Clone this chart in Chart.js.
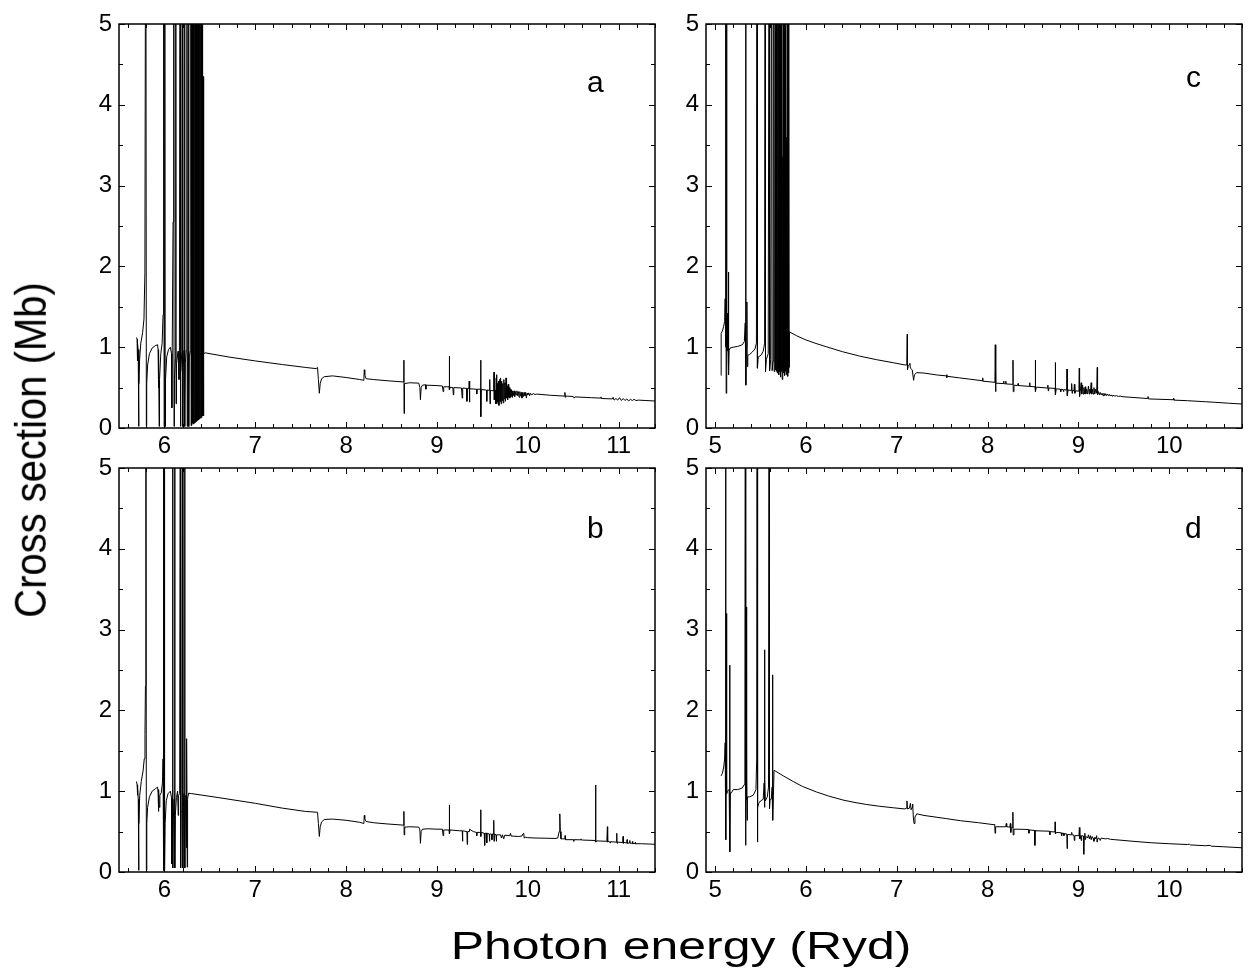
<!DOCTYPE html>
<html lang="en">
  <head>
    <meta charset="UTF-8" />
    <title>Photoionization cross sections</title>
    <script src="https://cdn.jsdelivr.net/npm/chart.js"></script>
    <style>
      body {
        margin: 0;
        background: #fff;
        font-family: "Liberation Sans", Arial, sans-serif;
      }
      #wrap {
        position: relative;
        width: 1249px;
        height: 975px;
        background: #fff;
      }
      #wrap canvas {
        position: absolute;
        left: 0;
        top: 0;
      }
      .lbl {
        position: absolute;
        font-size: 30px;
        line-height: 1;
        color: #000;
      }
      .ttl {
        position: absolute;
        font-size: 40px;
        line-height: 1;
        color: #000;
        white-space: nowrap;
        transform-origin: 0 0;
      }
    </style>
  </head>
  <body>
    <div id="wrap">
      <canvas id="chartA" width="1249" height="975"></canvas>
      <canvas id="chartB" width="1249" height="975"></canvas>
      <canvas id="chartC" width="1249" height="975"></canvas>
      <canvas id="chartD" width="1249" height="975"></canvas>
      <div class="lbl" style="left: 587px; top: 67px">a</div>
      <div class="lbl" style="left: 587px; top: 513px">b</div>
      <div class="lbl" style="left: 1186px; top: 62px">c</div>
      <div class="lbl" style="left: 1185px; top: 513px">d</div>
      <div class="ttl" style="left: 30px; top: 450px; transform: scaleX(1.1) rotate(-90deg) translate(-50%, -50%)">Cross section (Mb)</div>
      <div class="ttl" style="left: 681px; top: 945px; font-size: 39px; transform: scaleX(1.28) translate(-50%, -50%)">Photon energy (Ryd)</div>
    </div>

    <script>
      // tick labels
      const ticksAB = [6, 7, 8, 9, 10, 11];
      const ticksCD = [5, 6, 7, 8, 9, 10];
      const ticksY = [0, 1, 2, 3, 4, 5];

      // [energy (Ryd), cross section (Mb)]; 8 = off the top
      const panelA = [
        [5.692,1.12],[5.699,1.10],[5.702,0.83],[5.705,1.05],[5.711,0.97],[5.716,0.02],[5.720,0.55],[5.727,0.85],
        [5.740,1.05],[5.760,1.18],[5.775,1.35],[5.785,1.92],[5.795,8],[5.801,0.02],[5.805,0.55],[5.815,0.78],
        [5.835,0.92],[5.865,0.99],[5.900,1.02],[5.925,1.03],[5.930,0.97],[5.934,0.50],[5.937,0.96],[5.942,0.02],
        [5.946,0.60],[5.960,0.92],[5.975,1.05],[5.985,1.40],[5.989,2.40],[5.994,8],[5.997,0.02],[6.004,8],
        [6.007,0.02],[6.012,0.60],[6.025,0.88],[6.045,0.97],[6.065,1.00],[6.078,0.92],[6.082,0.25],[6.086,1.00],
        [6.095,2.55],[6.103,8],[6.106,0.02],[6.110,0.60],[6.120,0.85],[6.125,8],[6.128,0.30],[6.133,0.80],
        [6.150,0.95],[6.160,0.60],[6.165,0.93],[6.173,8],[6.177,0.02],[6.181,0.70],[6.192,0.95],[6.199,8],
        [6.202,0.02],[6.207,0.75],[6.216,0.96],[6.222,8],[6.225,0.02],[6.230,0.80],[6.240,0.96],[6.248,8],
        [6.251,0.02],[6.256,0.85],[6.262,0.95],[6.266,8],[6.269,0.02],[6.274,0.88],[6.285,0.95],[6.291,8],
        [6.294,0.03],[6.297,0.90],
        [6.300,8],[6.303,0.04],[6.306,8],[6.309,0.06],[6.312,8],[6.315,0.05],[6.318,8],[6.321,0.07],
        [6.324,8],[6.327,0.06],[6.330,8],[6.333,0.08],[6.336,8],[6.339,0.07],[6.342,8],[6.345,0.09],
        [6.348,8],[6.351,0.08],[6.354,8],[6.357,0.10],[6.360,8],[6.363,0.09],[6.366,8],[6.369,0.11],
        [6.372,8],[6.375,0.10],[6.378,8],[6.381,0.12],[6.384,8],[6.387,0.11],[6.390,8],[6.393,0.13],
        [6.396,8],[6.399,0.12],[6.402,8],[6.405,0.14],[6.408,8],[6.411,0.13],[6.414,8],[6.417,0.15],
        [6.420,8],[6.423,0.20],[6.426,4.35],[6.429,0.15],[6.432,0.40],[6.434,0.92],
        [6.45,0.93],[6.70,0.88],[7.00,0.83],[7.30,0.785],[7.55,0.75],[7.67,0.735],[7.685,0.75],[7.695,0.60],
        [7.705,0.43],[7.715,0.55],[7.73,0.61],[7.76,0.635],[7.85,0.645],[8.00,0.625],[8.15,0.60],[8.195,0.59],
        [8.200,0.72],[8.205,0.66],[8.22,0.61],[8.30,0.60],[8.45,0.585],[8.63,0.57],[8.636,0.84],[8.638,0.18],
        [8.642,0.55],[8.70,0.56],[8.80,0.555],[8.812,0.50],[8.818,0.35],[8.826,0.50],[8.84,0.53],[8.875,0.535],
        [8.878,0.48],[8.882,0.53],[9.00,0.525],[9.06,0.52],[9.068,0.45],[9.074,0.51],[9.133,0.51],[9.136,0.89],
        [9.139,0.47],[9.145,0.505],[9.175,0.50],[9.180,0.41],[9.185,0.50],[9.27,0.495],[9.278,0.37],[9.283,0.495],
        [9.325,0.49],[9.330,0.33],[9.335,0.49],[9.352,0.49],[9.355,0.58],[9.358,0.32],[9.362,0.485],[9.435,0.48],
        [9.438,0.42],[9.442,0.48],[9.478,0.48],[9.481,0.84],[9.484,0.14],[9.488,0.475],[9.545,0.47],[9.548,0.33],
        [9.552,0.47],[9.578,0.465],[9.581,0.60],[9.584,0.30],[9.588,0.465],[9.625,0.46],[9.628,0.69],[9.631,0.35],
        [9.640,0.47],[9.646,0.30],[9.652,0.62],[9.656,0.66],[9.659,0.30],[9.664,0.55],[9.670,0.32],[9.676,0.58],
        [9.682,0.28],[9.688,0.60],[9.694,0.33],[9.700,0.62],[9.706,0.30],[9.712,0.58],[9.718,0.34],[9.724,0.55],
        [9.730,0.31],[9.736,0.60],[9.742,0.36],[9.748,0.56],[9.754,0.33],[9.760,0.62],[9.766,0.37],[9.772,0.52],
        [9.778,0.35],[9.784,0.54],[9.790,0.38],[9.796,0.50],[9.802,0.37],[9.808,0.48],[9.814,0.39],[9.820,0.47],
        [9.826,0.38],[9.832,0.46],[9.840,0.40],[9.848,0.46],[9.856,0.39],[9.864,0.45],[9.872,0.41],[9.880,0.46],
        [9.888,0.40],[9.896,0.45],[9.904,0.38],[9.912,0.45],[9.920,0.40],[9.928,0.44],[9.936,0.37],[9.944,0.44],
        [9.952,0.39],[9.960,0.44],[9.968,0.40],[9.976,0.44],[9.984,0.37],[9.992,0.43],[10.00,0.41],[10.01,0.435],
        [10.02,0.40],[10.03,0.43],[10.04,0.41],[10.06,0.425],[10.08,0.415],[10.10,0.42],[10.25,0.405],[10.40,0.395],
        [10.408,0.44],[10.412,0.38],[10.416,0.395],[10.50,0.39],[10.51,0.37],[10.52,0.385],[10.70,0.375],[10.80,0.37],
        [10.805,0.385],[10.81,0.365],[10.93,0.36],[10.94,0.38],[10.95,0.345],[10.97,0.365],[10.99,0.345],[11.01,0.375],
        [11.03,0.34],[11.05,0.365],[11.07,0.34],[11.09,0.36],[11.11,0.335],[11.13,0.355],[11.15,0.34],[11.17,0.355],
        [11.19,0.34],[11.22,0.345],[11.30,0.34],[11.40,0.334]
      ];

      const panelB = [
        [5.692,1.12],[5.699,1.08],[5.703,0.95],[5.707,1.05],[5.712,0.90],[5.716,0.02],[5.720,0.60],[5.728,0.95],
        [5.745,1.12],[5.765,1.25],[5.778,1.40],[5.786,1.70],[5.791,2.30],[5.796,8],[5.801,0.02],[5.806,0.60],
        [5.815,0.80],[5.835,0.93],[5.865,1.00],[5.900,1.03],[5.925,1.05],[5.930,0.98],[5.934,0.75],[5.938,1.02],
        [5.944,0.80],[5.950,0.95],[5.965,0.98],[5.978,1.10],[5.985,1.40],[5.989,8],[5.993,0.02],[5.997,0.50],
        [6.000,8],[6.003,0.02],[6.008,0.60],[6.020,0.88],[6.040,0.97],[6.065,1.00],[6.078,0.92],[6.081,0.10],
        [6.085,0.90],[6.090,8],[6.094,0.05],[6.098,0.65],[6.106,0.90],[6.113,8],[6.116,0.05],[6.120,0.70],
        [6.132,0.92],[6.145,1.00],[6.152,0.70],[6.156,0.95],[6.168,0.97],[6.176,8],[6.179,0.05],[6.184,0.75],
        [6.193,0.95],[6.200,8],[6.203,0.05],[6.208,0.80],[6.216,0.97],[6.223,8],[6.226,0.05],[6.231,0.85],
        [6.238,0.95],[6.241,0.30],[6.244,0.90],[6.248,1.65],[6.251,0.06],[6.255,0.90],[6.260,0.95],[6.265,0.975],
        [6.30,0.97],[6.60,0.92],[7.00,0.85],[7.30,0.79],[7.55,0.75],[7.67,0.74],[7.685,0.74],[7.695,0.60],
        [7.705,0.44],[7.715,0.56],[7.73,0.62],[7.76,0.65],[7.85,0.655],[8.00,0.64],[8.15,0.615],[8.195,0.60],
        [8.200,0.70],[8.205,0.66],[8.22,0.625],[8.30,0.61],[8.45,0.595],[8.63,0.58],[8.636,0.75],[8.639,0.46],
        [8.645,0.555],[8.70,0.56],[8.80,0.555],[8.812,0.52],[8.818,0.355],[8.826,0.50],[8.84,0.53],[8.90,0.535],
        [9.00,0.53],[9.06,0.53],[9.068,0.45],[9.074,0.52],[9.133,0.52],[9.136,0.83],[9.139,0.47],[9.145,0.52],
        [9.25,0.51],[9.278,0.51],[9.281,0.38],[9.285,0.51],[9.33,0.50],[9.333,0.34],[9.337,0.50],[9.355,0.50],
        [9.358,0.53],[9.40,0.50],[9.435,0.49],[9.438,0.45],[9.442,0.49],[9.478,0.49],[9.481,0.77],[9.484,0.44],
        [9.488,0.49],[9.52,0.48],[9.525,0.33],[9.53,0.48],[9.545,0.48],[9.548,0.36],[9.552,0.48],[9.575,0.47],
        [9.578,0.38],[9.582,0.47],[9.60,0.47],[9.605,0.40],[9.61,0.47],[9.622,0.47],[9.625,0.64],[9.628,0.38],
        [9.632,0.47],[9.650,0.46],[9.653,0.38],[9.657,0.46],[9.70,0.46],[9.71,0.42],[9.72,0.46],[9.735,0.41],
        [9.745,0.455],[9.80,0.45],[9.81,0.48],[9.815,0.445],[9.90,0.44],[9.935,0.445],[9.945,0.47],[9.955,0.48],
        [9.96,0.42],[9.97,0.43],[10.00,0.425],[10.10,0.42],[10.20,0.418],[10.30,0.415],[10.33,0.42],[10.345,0.50],
        [10.352,0.72],[10.358,0.50],[10.365,0.41],[10.38,0.41],[10.408,0.41],[10.41,0.45],[10.415,0.40],[10.50,0.40],
        [10.505,0.38],[10.51,0.40],[10.58,0.398],[10.585,0.41],[10.59,0.396],[10.74,0.39],[10.746,1.077],[10.749,0.37],
        [10.755,0.385],[10.87,0.38],[10.876,0.56],[10.879,0.37],[10.885,0.38],[10.90,0.375],[10.905,0.36],[10.91,0.375],
        [10.975,0.37],[10.979,0.48],[10.982,0.355],[10.987,0.37],[11.045,0.365],[11.049,0.44],[11.052,0.355],[11.06,0.365],
        [11.09,0.36],[11.093,0.40],[11.096,0.355],[11.12,0.36],[11.123,0.39],[11.126,0.355],[11.15,0.358],[11.153,0.38],
        [11.156,0.35],[11.18,0.355],[11.183,0.37],[11.186,0.35],[11.25,0.35],[11.40,0.343]
      ];

      const panelC = [
        [5.066,0.65],[5.067,1.17],[5.080,1.20],[5.095,1.26],[5.105,1.32],[5.111,1.60],[5.114,8],[5.117,1.00],
        [5.119,8],[5.122,0.43],[5.125,8],[5.128,1.30],[5.131,0.95],[5.136,1.42],[5.139,0.96],[5.143,1.00],
        [5.147,1.93],[5.150,0.66],[5.154,0.96],[5.165,0.99],[5.20,1.00],[5.25,1.01],[5.30,1.03],[5.322,1.07],
        [5.332,1.30],[5.337,8],[5.340,0.53],[5.344,1.00],[5.350,1.56],[5.354,0.76],[5.360,0.90],[5.380,0.91],
        [5.410,0.94],[5.440,0.98],[5.455,1.05],[5.462,8],[5.466,0.74],[5.475,0.88],[5.505,0.90],[5.530,0.95],
        [5.545,1.05],[5.551,8],[5.555,0.70],[5.565,0.85],[5.585,0.92],[5.596,8],[5.600,0.71],[5.612,0.85],
        [5.624,8],[5.628,0.71],[5.638,0.83],[5.646,8],[5.650,0.70],[5.658,0.84],[5.664,8],[5.667,0.72],
        [5.672,8],[5.676,0.70],[5.681,8],[5.685,0.68],[5.690,8],[5.694,0.72],[5.699,8],[5.703,0.66],
        [5.708,8],[5.712,0.70],[5.717,8],[5.721,0.63],[5.726,8],[5.730,0.70],[5.735,8],[5.739,0.60],
        [5.743,3.36],[5.747,0.72],[5.752,8],[5.756,0.68],[5.761,8],[5.765,0.65],[5.770,8],[5.774,0.70],
        [5.778,3.60],[5.782,0.66],[5.786,3.60],[5.790,0.72],[5.795,8],[5.799,0.64],[5.804,8],[5.808,0.68],
        [5.812,8],[5.815,0.75],[5.818,1.19],
        [5.90,1.14],[6.00,1.09],[6.10,1.05],[6.226,1.005],[6.40,0.945],[6.59,0.89],[6.78,0.845],[6.96,0.808],
        [7.09,0.78],[7.110,0.78],[7.115,1.16],[7.118,0.72],[7.125,0.76],[7.14,0.79],[7.145,0.80],[7.15,0.74],
        [7.17,0.72],[7.185,0.59],[7.195,0.66],[7.22,0.685],[7.30,0.68],[7.45,0.655],[7.548,0.645],[7.550,0.62],
        [7.552,0.66],[7.555,0.64],[7.69,0.62],[7.80,0.605],[7.94,0.585],[7.945,0.62],[7.948,0.58],[8.08,0.565],
        [8.084,1.03],[8.087,0.45],[8.092,0.555],[8.17,0.55],[8.175,0.58],[8.18,0.55],[8.195,0.545],[8.20,0.58],
        [8.205,0.545],[8.276,0.54],[8.279,0.84],[8.282,0.45],[8.29,0.53],[8.33,0.525],[8.335,0.55],[8.34,0.525],
        [8.46,0.515],[8.463,0.56],[8.466,0.515],[8.522,0.51],[8.525,0.84],[8.528,0.45],[8.535,0.505],[8.66,0.495],
        [8.663,0.53],[8.667,0.46],[8.672,0.495],[8.742,0.49],[8.745,0.81],[8.748,0.41],[8.755,0.485],[8.80,0.48],
        [8.805,0.45],[8.81,0.48],[8.83,0.475],[8.835,0.45],[8.84,0.475],[8.871,0.47],[8.874,0.73],[8.877,0.40],
        [8.885,0.47],[8.92,0.465],[8.925,0.55],[8.93,0.43],[8.935,0.465],[8.95,0.46],[8.955,0.54],[8.96,0.43],
        [8.97,0.46],[9.005,0.455],[9.009,0.74],[9.012,0.39],[9.02,0.455],[9.03,0.56],[9.035,0.42],[9.045,0.53],
        [9.05,0.42],[9.06,0.50],[9.065,0.42],[9.075,0.51],[9.08,0.42],[9.09,0.48],[9.10,0.42],[9.11,0.52],
        [9.118,0.42],[9.125,0.48],[9.13,0.43],[9.14,0.56],[9.145,0.42],[9.155,0.48],[9.16,0.42],[9.17,0.50],
        [9.18,0.42],[9.19,0.48],[9.20,0.43],[9.207,0.75],[9.21,0.41],[9.22,0.45],[9.23,0.41],[9.24,0.44],
        [9.25,0.41],[9.26,0.43],[9.27,0.40],[9.28,0.43],[9.29,0.40],[9.30,0.425],[9.31,0.40],[9.32,0.42],
        [9.33,0.40],[9.34,0.415],[9.35,0.395],[9.36,0.41],[9.37,0.395],[9.38,0.405],[9.40,0.395],[9.42,0.40],
        [9.44,0.39],[9.46,0.395],[9.48,0.388],[9.60,0.378],[9.76,0.365],[9.765,0.39],[9.77,0.36],[10.04,0.35],
        [10.045,0.365],[10.05,0.345],[10.20,0.338],[10.35,0.328],[10.40,0.325],[10.50,0.318],[10.65,0.307],[10.80,0.297]
      ];

      const panelD = [
        [5.066,1.19],[5.080,1.22],[5.095,1.30],[5.105,1.40],[5.111,1.60],[5.116,8],[5.119,0.40],[5.123,1.50],
        [5.126,3.20],[5.129,0.97],[5.135,1.00],[5.155,1.02],[5.160,2.56],[5.164,0.25],[5.168,0.98],[5.180,0.98],
        [5.20,1.02],[5.25,1.02],[5.30,1.04],[5.32,1.08],[5.328,1.30],[5.333,8],[5.336,0.33],[5.339,1.10],
        [5.343,3.28],[5.346,0.89],[5.349,1.15],[5.352,0.64],[5.356,0.93],[5.380,0.93],[5.42,0.95],[5.45,1.02],
        [5.458,1.40],[5.463,8],[5.466,0.37],[5.470,0.80],[5.480,0.85],[5.50,0.88],[5.53,0.90],[5.540,1.10],
        [5.543,2.75],[5.546,0.80],[5.549,1.15],[5.553,0.88],[5.575,0.93],[5.588,1.05],[5.595,8],[5.599,0.78],
        [5.606,0.90],[5.618,0.90],[5.628,1.05],[5.631,2.44],[5.637,0.64],[5.642,0.95],[5.649,1.26],
        [5.75,1.19],[5.86,1.12],[5.96,1.06],[6.117,0.99],[6.25,0.94],[6.41,0.89],[6.54,0.86],[6.67,0.835],
        [6.80,0.815],[6.96,0.795],[7.09,0.78],[7.105,0.79],[7.112,0.88],[7.118,0.78],[7.14,0.79],[7.15,0.85],
        [7.158,0.77],[7.17,0.80],[7.175,0.84],[7.182,0.68],[7.19,0.60],[7.20,0.68],[7.22,0.72],[7.30,0.70],
        [7.55,0.66],[7.70,0.635],[7.90,0.61],[8.07,0.585],[8.078,0.59],[8.082,0.48],[8.088,0.56],[8.20,0.56],
        [8.205,0.60],[8.21,0.56],[8.245,0.555],[8.25,0.60],[8.255,0.49],[8.26,0.55],[8.275,0.55],[8.278,0.74],
        [8.281,0.46],[8.29,0.53],[8.40,0.528],[8.45,0.525],[8.455,0.48],[8.46,0.52],[8.515,0.515],[8.52,0.33],
        [8.525,0.515],[8.53,0.51],[8.68,0.505],[8.685,0.46],[8.69,0.50],[8.74,0.495],[8.743,0.62],[8.747,0.47],
        [8.755,0.49],[8.81,0.485],[8.815,0.45],[8.82,0.48],[8.835,0.48],[8.84,0.45],[8.845,0.475],[8.872,0.47],
        [8.875,0.29],[8.878,0.465],[8.92,0.46],[8.925,0.49],[8.93,0.46],[8.95,0.455],[8.955,0.39],[8.96,0.45],
        [9.005,0.45],[9.01,0.55],[9.015,0.41],[9.025,0.45],[9.03,0.39],[9.035,0.45],[9.055,0.445],[9.058,0.22],
        [9.062,0.44],[9.07,0.48],[9.075,0.40],[9.085,0.44],[9.10,0.42],[9.11,0.46],[9.12,0.41],[9.13,0.45],
        [9.14,0.40],[9.15,0.44],[9.16,0.42],[9.17,0.38],[9.18,0.43],[9.19,0.41],[9.20,0.45],[9.205,0.37],
        [9.215,0.42],[9.23,0.415],[9.24,0.39],[9.25,0.42],[9.27,0.415],[9.30,0.41],[9.32,0.415],[9.35,0.405],
        [9.40,0.40],[9.60,0.38],[9.80,0.362],[10.00,0.35],[10.20,0.34],[10.22,0.345],[10.23,0.335],[10.40,0.325],
        [10.45,0.33],[10.46,0.32],[10.60,0.312],[10.80,0.30]
      ];

      const W = 1249;
      const H = 975;
      const Y_W = 50;
      const X_H = 40;
      const tickFont = { family: "'Liberation Sans', Arial, sans-serif", size: 24 };

      // frame and inward ticks on all four sides
      const frameTicks = {
        id: "frameTicks",
        afterDraw(chart) {
          const { ctx, chartArea: a, scales } = chart;
          const x = scales.x;
          const y = scales.y;
          ctx.save();
          ctx.strokeStyle = "#000";
          ctx.lineWidth = 1;
          ctx.beginPath();
          for (let k = Math.ceil(x.min * 5 - 1e-9); k <= x.max * 5 + 1e-9; k++) {
            const px = Math.round(x.getPixelForValue(k / 5)) + 0.5;
            const len = k % 5 === 0 ? 6 : 4;
            ctx.moveTo(px, a.bottom);
            ctx.lineTo(px, a.bottom - len);
            ctx.moveTo(px, a.top);
            ctx.lineTo(px, a.top + len);
          }
          for (let k = 0; k <= 10; k++) {
            const py = Math.round(y.getPixelForValue(k / 2)) + 0.5;
            const len = k % 2 === 0 ? 6 : 4;
            ctx.moveTo(a.left, py);
            ctx.lineTo(a.left + len, py);
            ctx.moveTo(a.right, py);
            ctx.lineTo(a.right - len, py);
          }
          ctx.stroke();
          ctx.lineWidth = 1.5;
          ctx.strokeRect(a.left, a.top, a.right - a.left, a.bottom - a.top);
          ctx.restore();
        },
      };

      function makePanel(id, data, xMin, xMax, xTicks, box) {
        const ctx = document.getElementById(id).getContext("2d");
        return new Chart(ctx, {
          type: "line",
          data: {
            datasets: [
              {
                data: data.map(([x, y]) => ({ x, y })),
                borderColor: "#000",
                borderWidth: 1,
                pointRadius: 0,
                tension: 0,
                fill: false,
              },
            ],
          },
          options: {
            responsive: false,
            animation: false,
            events: [],
            layout: {
              padding: {
                left: box.left - Y_W,
                top: box.top,
                right: W - box.right,
                bottom: H - box.bottom - X_H,
              },
            },
            plugins: { legend: { display: false }, tooltip: { enabled: false } },
            scales: {
              x: {
                type: "linear",
                min: xMin,
                max: xMax,
                grid: { display: false, drawTicks: false },
                border: { display: false },
                afterBuildTicks: (s) => {
                  s.ticks = xTicks.map((v) => ({ value: v }));
                },
                afterFit: (s) => {
                  s.height = X_H;
                },
                ticks: {
                  color: "#000",
                  font: tickFont,
                  padding: 4,
                  maxRotation: 0,
                  autoSkip: false,
                },
              },
              y: {
                type: "linear",
                min: 0,
                max: 5,
                grid: { display: false, drawTicks: false },
                border: { display: false },
                afterBuildTicks: (s) => {
                  s.ticks = ticksY.map((v) => ({ value: v }));
                },
                afterFit: (s) => {
                  s.width = Y_W;
                },
                ticks: { color: "#000", font: tickFont, padding: 7 },
              },
            },
          },
          plugins: [frameTicks],
        });
      }

      makePanel("chartA", panelA, 5.5, 11.4, ticksAB, { left: 119, top: 24, right: 655, bottom: 428 });
      makePanel("chartB", panelB, 5.5, 11.4, ticksAB, { left: 119, top: 468, right: 655, bottom: 872 });
      makePanel("chartC", panelC, 4.9, 10.8, ticksCD, { left: 706, top: 24, right: 1242, bottom: 428 });
      makePanel("chartD", panelD, 4.9, 10.8, ticksCD, { left: 706, top: 468, right: 1242, bottom: 872 });
    </script>
  </body>
</html>
